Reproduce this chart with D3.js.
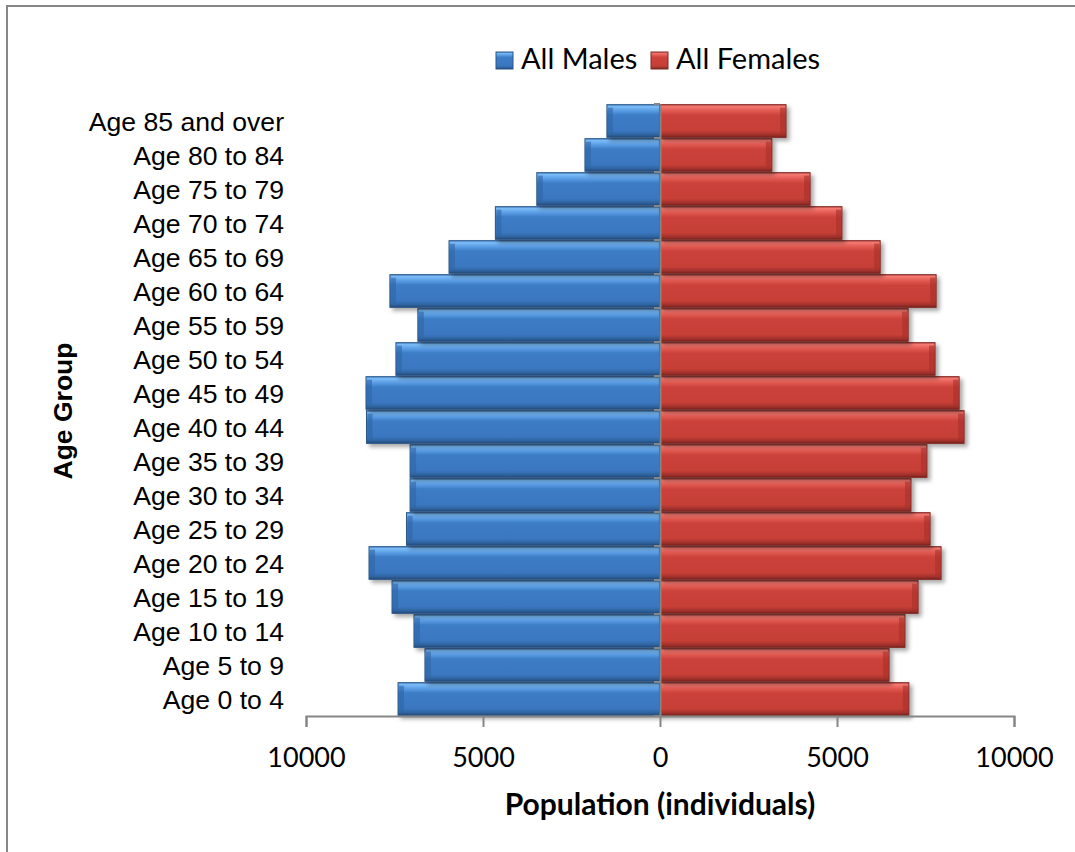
<!DOCTYPE html>
<html>
<head>
<meta charset="utf-8">
<script src="https://cdn.jsdelivr.net/npm/d3@7"></script>
<style>
  html, body { margin: 0; padding: 0; background: #fff; }
  svg { display: block; }
</style>
</head>
<body>
<svg id="chart" width="1075" height="852"></svg>
<script>
const categories = ["Age 0 to 4","Age 5 to 9","Age 10 to 14","Age 15 to 19","Age 20 to 24","Age 25 to 29","Age 30 to 34","Age 35 to 39","Age 40 to 44","Age 45 to 49","Age 50 to 54","Age 55 to 59","Age 60 to 64","Age 65 to 69","Age 70 to 74","Age 75 to 79","Age 80 to 84","Age 85 and over"];
const males   = [7400, 6640, 6950, 7570, 8220, 7160, 7060, 7060, 8290, 8305, 7460, 6840, 7630, 5960, 4650, 3480, 2120, 1500];
const females = [7030, 6470, 6920, 7290, 7940, 7630, 7090, 7540, 8590, 8450, 7770, 7010, 7800, 6220, 5140, 4240, 3160, 3560];
const tickValues = [-10000, -5000, 0, 5000, 10000];
const seriesNames = ["All Males", "All Females"];

const svg = d3.select("#chart");

// outer chart border (top & left visible)
svg.append("rect").attr("x", 7).attr("y", 6).attr("width", 1100).attr("height", 900)
  .attr("fill", "#fff").attr("stroke", "#878787").attr("stroke-width", 2);

const defs = svg.append("defs");
function grad(id, stops) {
  const g = defs.append("linearGradient").attr("id", id).attr("x1", 0).attr("y1", 0).attr("x2", 0).attr("y2", 1);
  stops.forEach(s => g.append("stop").attr("offset", s[0]).attr("stop-color", s[1]));
}
grad("gBlue", [[0, "#4f8fd6"], [0.06, "#7cbcf6"], [0.18, "#5a9ee6"], [0.32, "#3d7cc6"], [0.8, "#3a77c0"], [0.92, "#30639f"], [1, "#24497a"]]);
grad("gRed",  [[0, "#d25650"], [0.06, "#f47a72"], [0.18, "#e25a52"], [0.32, "#cb423b"], [0.8, "#c63f38"], [0.92, "#a3322c"], [1, "#782420"]]);
const f = defs.append("filter").attr("id", "shadow").attr("x", "-5%").attr("y", "-20%").attr("width", "115%").attr("height", "160%");
f.append("feDropShadow").attr("dx", 3).attr("dy", 3).attr("stdDeviation", 2).attr("flood-color", "#000").attr("flood-opacity", 0.35);

const x = d3.scaleLinear().domain([-10000, 10000]).range([306, 1014]);
const y = d3.scaleBand().domain(categories.slice().reverse()).range([104, 716]).paddingInner(0.04).paddingOuter(0.02);

const data = categories.map((c, i) => ({ cat: c, m: males[i], f: females[i] }));

const gBars = svg.append("g");
gBars.selectAll("rect.m").data(data).join("rect").attr("class", "m")
  .attr("x", d => x(-d.m)).attr("y", d => y(d.cat))
  .attr("width", d => x(0) - x(-d.m)).attr("height", y.bandwidth())
  .attr("fill", "url(#gBlue)").attr("stroke", "#2b5587").attr("stroke-width", 1)
  .attr("filter", "url(#shadow)");
gBars.selectAll("rect.f").data(data).join("rect").attr("class", "f")
  .attr("x", x(0)).attr("y", d => y(d.cat))
  .attr("width", d => x(d.f) - x(0)).attr("height", y.bandwidth())
  .attr("fill", "url(#gRed)").attr("stroke", "#7e2823").attr("stroke-width", 1)
  .attr("filter", "url(#shadow)");

// bevel edges
gBars.selectAll("rect.mb").data(data).join("rect").attr("class", "mb")
  .attr("x", d => x(-d.m) + 1).attr("y", d => y(d.cat) + 3)
  .attr("width", 5).attr("height", y.bandwidth() - 6)
  .attr("fill", "#2f65a6").attr("opacity", 0.6);
gBars.selectAll("rect.fb").data(data).join("rect").attr("class", "fb")
  .attr("x", d => x(d.f) - 6).attr("y", d => y(d.cat) + 3)
  .attr("width", 5).attr("height", y.bandwidth() - 6)
  .attr("fill", "#a9302a").attr("opacity", 0.6);

// x axis
const xAxis = d3.axisBottom(x).tickValues(tickValues).tickFormat(d => Math.abs(d)).tickSize(11).tickPadding(10);
const gx = svg.append("g").attr("transform", "translate(0,716)").call(xAxis);
gx.select(".domain").attr("stroke", "#868686").attr("stroke-width", 2);
gx.selectAll(".tick line").attr("stroke", "#868686").attr("stroke-width", 2);
gx.selectAll(".tick text").attr("font-family", "Lato, 'Open Sans', sans-serif").attr("font-size", 27)
  .attr("fill", "#000").attr("dy", null).attr("y", 51);

// y axis at zero
const yAxis = d3.axisLeft(y).tickSize(0).tickFormat("");
const gy = svg.append("g").attr("transform", `translate(${x(0)},0)`).call(yAxis);
gy.select(".domain").attr("stroke", "#868686").attr("stroke-width", 2);
gy.selectAll("line.bt").data(d3.range(categories.length + 1)).join("line").attr("class", "bt")
  .attr("x1", -6).attr("x2", 0)
  .attr("y1", i => 104 + i * y.step()).attr("y2", i => 104 + i * y.step())
  .attr("stroke", "#868686").attr("stroke-width", 2);

// category labels
svg.append("g").selectAll("text").data(categories).join("text")
  .attr("x", 284).attr("y", d => y(d) + y.bandwidth() / 2 + 1)
  .attr("dy", "0.35em").attr("text-anchor", "end")
  .attr("font-family", "'Liberation Sans', Arial, sans-serif").attr("font-size", 26.6)
  .attr("fill", "#000").text(d => d);

// axis titles
svg.append("text").attr("x", 660).attr("y", 815).attr("text-anchor", "middle")
  .attr("font-family", "Lato, 'Open Sans', sans-serif").attr("font-weight", "bold").attr("font-size", 30)
  .attr("fill", "#000").text("Population (individuals)");
svg.append("text").attr("transform", "translate(72,411) rotate(-90)").attr("text-anchor", "middle")
  .attr("font-family", "'Liberation Sans', Arial, sans-serif").attr("font-weight", "bold").attr("font-size", 26.5)
  .attr("fill", "#000").text("Age Group");

// legend
const legend = svg.append("g");
const legItems = [
  { name: seriesNames[0], fill: "url(#gBlue)", stroke: "#2b5587", sx: 496, tx: 521 },
  { name: seriesNames[1], fill: "url(#gRed)", stroke: "#7e2823", sx: 651, tx: 676 }
];
legItems.forEach(it => {
  legend.append("rect").attr("x", it.sx).attr("y", 52).attr("width", 17).attr("height", 17)
    .attr("fill", it.fill).attr("stroke", it.stroke).attr("stroke-width", 1);
  legend.append("text").attr("x", it.tx).attr("y", 69)
    .attr("font-family", "Lato, 'Open Sans', sans-serif").attr("font-size", 29)
    .attr("fill", "#000").text(it.name);
});
</script>
</body>
</html>
